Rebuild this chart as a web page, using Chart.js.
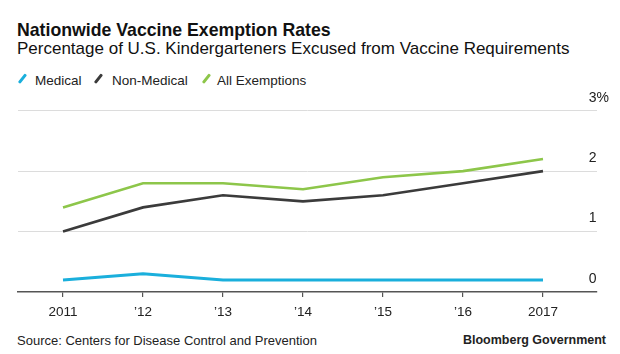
<!DOCTYPE html>
<html>
<head>
<meta charset="utf-8">
<script src="https://cdn.jsdelivr.net/npm/chart.js@4.4.1/dist/chart.umd.min.js"></script>
<style>
  html, body { margin: 0; padding: 0; background: #fff; }
  body { width: 620px; height: 354px; position: relative; overflow: hidden; font-family: "Liberation Sans", Arial, sans-serif; color: #111; }
  .t { position: absolute; white-space: nowrap; line-height: 1; }
  #title { left: 17px; top: 22px; font-size: 17.7px; font-weight: bold; }
  #subtitle { left: 17px; top: 39.6px; font-size: 17px; }
  .leg { top: 73.6px; font-size: 13.5px; color: #222; }
  .slash { position: absolute; top: 73px; width: 2.6px; height: 11px; transform: rotate(38deg); border-radius: 1px; }
  #source { left: 17px; top: 334px; font-size: 13px; color: #222; }
  #brand { right: 14px; top: 334px; font-size: 12.5px; font-weight: bold; color: #222; }
  canvas { position: absolute; left: 0; top: 0; }
</style>
</head>
<body>
<div class="t" id="title">Nationwide Vaccine Exemption Rates</div>
<div class="t" id="subtitle">Percentage of U.S. Kindergarteners Excused from Vaccine Requirements</div>
<div class="slash" style="left:21px;background:#1aafdc"></div>
<div class="t leg" style="left:35px">Medical</div>
<div class="slash" style="left:97px;background:#3b3b3b"></div>
<div class="t leg" style="left:112px">Non-Medical</div>
<div class="slash" style="left:205px;background:#8dc64a"></div>
<div class="t leg" style="left:217px">All Exemptions</div>
<div class="t" id="source">Source: Centers for Disease Control and Prevention</div>
<div class="t" id="brand">Bloomberg Government</div>
<canvas id="c" width="620" height="354"></canvas>
<script>
const years = [2011, 2012, 2013, 2014, 2015, 2016, 2017];
const medical = [0.2, 0.3, 0.2, 0.2, 0.2, 0.2, 0.2];
const nonMedical = [1.0, 1.4, 1.6, 1.5, 1.6, 1.8, 2.0];
const allExemptions = [1.4, 1.8, 1.8, 1.7, 1.9, 2.0, 2.2];
const yTicks = [0, 1, 2, 3];

const toPts = arr => years.map((x, i) => ({ x: x, y: arr[i] }));
const FONT = "'Liberation Sans', Arial, sans-serif";

new Chart(document.getElementById('c'), {
  type: 'line',
  data: {
    datasets: [
      { label: 'Medical', data: toPts(medical), borderColor: '#1aafdc', borderWidth: 3 },
      { label: 'Non-Medical', data: toPts(nonMedical), borderColor: '#3b3b3b', borderWidth: 2.6 },
      { label: 'All Exemptions', data: toPts(allExemptions), borderColor: '#8dc64a', borderWidth: 2.6 }
    ]
  },
  options: {
    responsive: false,
    animation: false,
    layout: { padding: { left: 18, right: 0, top: 110.7, bottom: 0 } },
    plugins: { legend: { display: false }, tooltip: { enabled: false }, title: { display: false } },
    elements: { point: { radius: 0, hoverRadius: 0 }, line: { tension: 0, fill: false, borderCapStyle: 'butt', borderJoinStyle: 'miter' } },
    scales: {
      x: {
        type: 'linear',
        min: 2010.4375,
        max: 2017.675,
        afterBuildTicks: s => { s.ticks = years.map(v => ({ value: v })); },
        afterFit: s => { s.height = 62; },
        grid: { drawOnChartArea: false, drawTicks: true, tickLength: 5, color: '#555', lineWidth: 1.2 },
        border: { display: true, color: '#555', width: 1.5 },
        ticks: {
          padding: 7,
          autoSkip: false,
          maxRotation: 0,
          color: '#222',
          font: { family: FONT, size: 13.5 },
          callback: v => (v === years[0] || v === years[years.length - 1]) ? String(v) : '\u2019' + String(v).slice(2)
        }
      },
      y: {
        position: 'right',
        min: 0,
        max: 3,
        afterBuildTicks: s => { s.ticks = yTicks.map(v => ({ value: v })); },
        afterFit: s => { s.width = 23; },
        grid: { drawTicks: false, lineWidth: 1, color: c => (c.tick && c.tick.value === 0) ? 'rgba(0,0,0,0)' : '#dcdcdc' },
        border: { display: false },
        ticks: {
          mirror: true,
          crossAlign: 'far',
          padding: 12,
          labelOffset: -13,
          color: '#222',
          font: { family: FONT, size: 14 },
          callback: v => v === yTicks[yTicks.length - 1] ? v + '%' : String(v)
        }
      }
    }
  }
});
</script>
</body>
</html>
